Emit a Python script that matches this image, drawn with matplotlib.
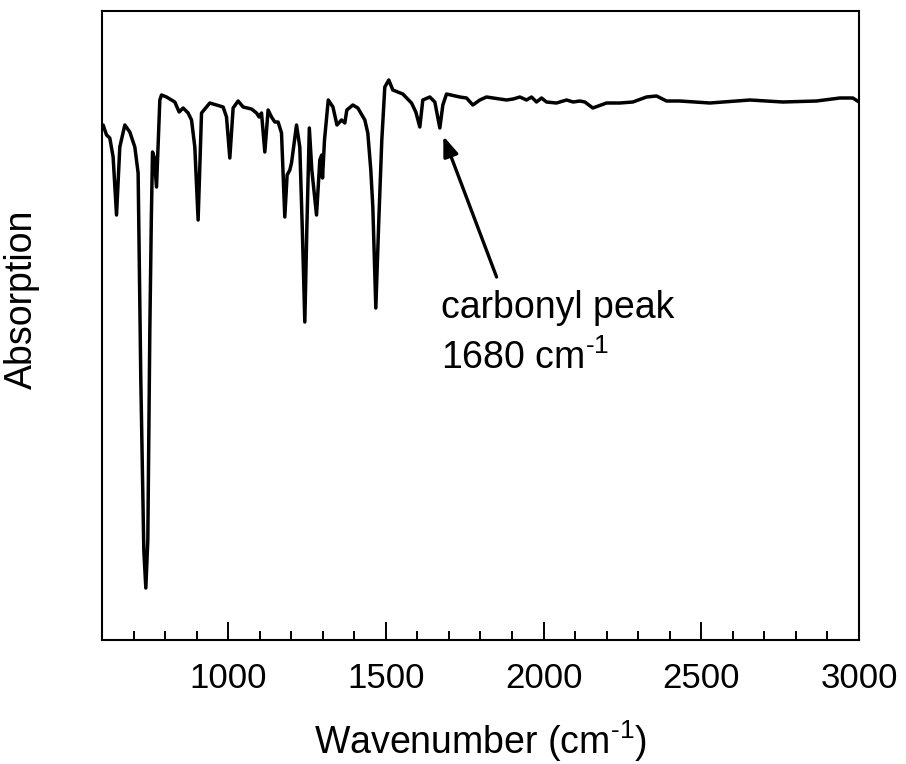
import numpy as np
import matplotlib
matplotlib.use('Agg')
import matplotlib.pyplot as plt

# IR spectrum (wavenumber in cm-1, absorption in arbitrary units)
wavenumber = [600, 603.5, 614.3, 624.7, 635.2, 646.0, 656.4, 672.3, 688.1, 704.0,
              714.5, 723.0, 732.5, 738.9, 745.2, 751.6, 756.3, 760.1, 765.2, 772.8,
              783.3, 788.6, 804.5, 830.8, 844.5, 857.1, 873.0, 883.8, 894.2, 904.7,
              915.5, 931.3, 941.8, 963.0, 984.0, 994.7, 1005.2, 1015.7, 1031.5, 1047.4,
              1074.0, 1089.9, 1098.1, 1105.7, 1116.2, 1126.6, 1137.4, 1147.9, 1158.3, 1169.1,
              1179.5, 1186.9, 1195.4, 1200.8, 1216.7, 1227.1, 1235.1, 1243.0, 1249.3, 1257.3,
              1265.2, 1280.1, 1290.6, 1296.5, 1299.1, 1305.4, 1317.3, 1332.2, 1344.9, 1359.4,
              1369.8, 1376.2, 1395.2, 1411.1, 1433.3, 1442.7, 1452.2, 1458.6, 1468.1, 1477.6,
              1487.1, 1496.6, 1509.3, 1522.0, 1553.7, 1581.3, 1594.9, 1607.6, 1617.1, 1639.3,
              1655.2, 1671.1, 1680.6, 1692.3, 1734.4, 1755.7, 1775.7, 1797.9, 1819.1, 1882.5,
              1903.6, 1924.8, 1945.9, 1961.8, 1977.6, 1993.5, 2009.3, 2040.9, 2072.8, 2094.0,
              2115.0, 2130.9, 2156.2, 2199.6, 2241.8, 2283.0, 2326.4, 2358.2, 2389.8, 2432.0,
              2527.1, 2654.0, 2758.6, 2865.4, 2939.3, 2980.5, 3000]
absorption = [5.15, 5.15, 5.05, 5.02, 4.83, 4.25, 4.93, 5.15, 5.08, 4.93,
              4.67, 2.60, 0.90, 0.52, 1.00, 3.10, 4.20, 4.88, 4.83, 4.53,
              5.40, 5.45, 5.43, 5.38, 5.28, 5.32, 5.27, 5.20, 4.93, 4.20,
              5.27, 5.33, 5.37, 5.35, 5.33, 5.23, 4.82, 5.32, 5.39, 5.33,
              5.31, 5.27, 5.23, 5.27, 4.88, 5.30, 5.23, 5.18, 5.18, 5.07,
              4.23, 4.65, 4.70, 4.77, 5.15, 4.93, 4.10, 3.18, 4.10, 5.12,
              4.70, 4.25, 4.80, 4.85, 4.62, 5.00, 5.40, 5.33, 5.15, 5.20,
              5.17, 5.30, 5.35, 5.32, 5.20, 5.07, 4.70, 4.33, 3.32, 4.20,
              5.00, 5.53, 5.60, 5.50, 5.46, 5.37, 5.28, 5.13, 5.40, 5.43,
              5.38, 5.12, 5.35, 5.46, 5.43, 5.42, 5.35, 5.40, 5.43, 5.40,
              5.41, 5.43, 5.40, 5.43, 5.38, 5.42, 5.38, 5.37, 5.40, 5.38,
              5.39, 5.38, 5.32, 5.37, 5.37, 5.38, 5.43, 5.44, 5.39, 5.39,
              5.37, 5.40, 5.38, 5.39, 5.42, 5.42, 5.38]

peak_label = ['carbonyl peak', r'1680 cm$^{\text{-1}}$']

plt.rcParams['font.family'] = ['Liberation Sans', 'DejaVu Sans']
plt.rcParams['mathtext.fontset'] = 'custom'
plt.rcParams['mathtext.rm'] = 'Liberation Sans'
plt.rcParams['mathtext.it'] = 'Liberation Sans:italic'
plt.rcParams['mathtext.default'] = 'regular'

fig = plt.figure(figsize=(9.06, 7.64), dpi=100)
ax = fig.add_axes([0.1126, 0.1623, 0.8355, 0.8233])

ax.plot(wavenumber, absorption, color='k', lw=2.5)

ax.set_xlim(600, 3000)
ax.set_ylim(0, 6.29)
ax.set_xticks([1000, 1500, 2000, 2500, 3000])
ax.set_xticks(np.arange(700, 3000, 100), minor=True)
ax.set_yticks([])
ax.tick_params(axis='x', which='major', direction='in', length=13, width=1.4,
               labelsize=25, pad=16)
ax.tick_params(axis='x', which='minor', direction='in', length=6.5, width=1.4)
for s in ax.spines.values():
    s.set_linewidth(1.5)

ax.set_xlabel(r'Wavenumber (cm$^{\text{-1}}$)', fontsize=27, va='baseline')
ax.xaxis.set_label_coords(0.5, -0.181)
ax.set_ylabel('Absorption', fontsize=27)
ax.yaxis.set_label_coords(-0.082, 0.542)

# arrow pointing at the carbonyl dip
ax.annotate('', xy=(1682, 5.04), xytext=(1851, 3.63),
            arrowprops=dict(arrowstyle='-|>,head_length=1.2,head_width=0.45',
                            color='k', lw=2.4, shrinkA=0, shrinkB=0))
ax.text(1676, 3.22, peak_label[0], fontsize=27, va='baseline')
ax.text(1676, 2.71, peak_label[1], fontsize=27, va='baseline')

fig.savefig('out.png', dpi=100)
